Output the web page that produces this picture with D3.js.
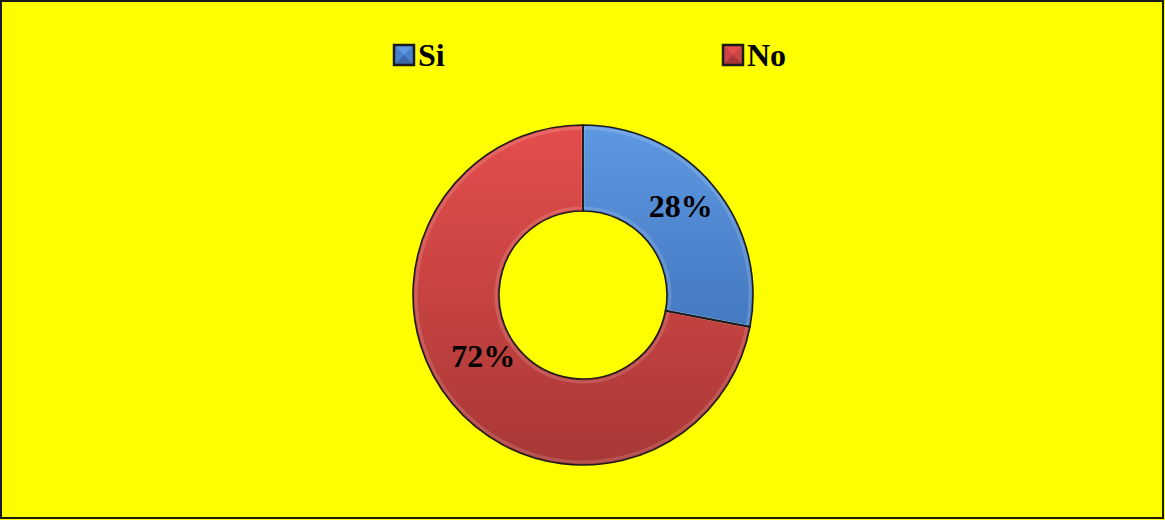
<!DOCTYPE html>
<html>
<head>
<meta charset="utf-8">
<script src="https://cdn.jsdelivr.net/npm/d3@7/dist/d3.min.js"></script>
<style>
  html, body { margin: 0; padding: 0; background: #ffff00; }
  svg { display: block; }
</style>
</head>
<body>
<svg id="chart" width="1165" height="520"></svg>
<script>
// Survey answers
const categories = ["Si", "No"];
const values = [28, 72];
const percentLabels = ["28%", "72%"];

const colors = {
  Si: { light: "#5e98e2", base: "#4a80c8", dark: "#3a68a8" },
  No: { light: "#e44e4c", base: "#c94442", dark: "#a83836" }
};

const W = 1165, H = 520;
const cx = 583, cy = 295, outerR = 170, innerR = 84;
// label placement: polar radius and angular nudge (radians) per slice
const labelLayout = { Si: { r: 132, shift: -0.045 }, No: { r: 117, shift: 0.14 } };

const svg = d3.select("#chart");
const defs = svg.append("defs");

// Background and frame
svg.append("rect")
  .attr("x", 1).attr("y", 1).attr("width", W - 3).attr("height", H - 3)
  .attr("fill", "#ffff00").attr("stroke", "#1a1a1a").attr("stroke-width", 2);

// Vertical gradients for the bevelled look of each slice (local to the donut group)
categories.forEach(c => {
  const g = defs.append("linearGradient")
    .attr("id", "grad-" + c)
    .attr("gradientUnits", "userSpaceOnUse")
    .attr("x1", 0).attr("y1", -outerR).attr("x2", 0).attr("y2", outerR);
  g.append("stop").attr("offset", "0%").attr("stop-color", colors[c].light);
  g.append("stop").attr("offset", "45%").attr("stop-color", colors[c].base);
  g.append("stop").attr("offset", "100%").attr("stop-color", colors[c].dark);
});

const pie = d3.pie().sort(null).value(d => d.value).startAngle(0).endAngle(2 * Math.PI);
const data = categories.map((c, i) => ({ cat: c, value: values[i], label: percentLabels[i] }));
const arcs = pie(data);

const arc = d3.arc().innerRadius(innerR).outerRadius(outerR);
const bevel = d3.arc().innerRadius(innerR + 3).outerRadius(outerR - 3);

const g = svg.append("g").attr("transform", `translate(${cx},${cy})`);

g.selectAll("path.slice")
  .data(arcs)
  .join("path")
  .attr("class", "slice")
  .attr("d", arc)
  .attr("fill", d => `url(#grad-${d.data.cat})`);

// soft inner highlight along the slice edges
g.selectAll("path.bevel")
  .data(arcs)
  .join("path")
  .attr("class", "bevel")
  .attr("d", bevel)
  .attr("fill", "none")
  .attr("stroke", "rgba(255,255,255,0.15)")
  .attr("stroke-width", 3);

g.selectAll("path.outline")
  .data(arcs)
  .join("path")
  .attr("class", "outline")
  .attr("d", arc)
  .attr("fill", "none")
  .attr("stroke", "#1c1c1c")
  .attr("stroke-width", 1.6);

// Percentage labels
const labelPoint = d => {
  const L = labelLayout[d.data.cat];
  const a = (d.startAngle + d.endAngle) / 2 + L.shift;
  return [Math.sin(a) * L.r, -Math.cos(a) * L.r];
};
g.selectAll("text.pct")
  .data(arcs)
  .join("text")
  .attr("class", "pct")
  .attr("x", d => labelPoint(d)[0])
  .attr("y", d => labelPoint(d)[1])
  .attr("text-anchor", "middle")
  .attr("dominant-baseline", "central")
  .attr("font-family", "'Liberation Serif', 'Times New Roman', serif")
  .attr("font-weight", "bold")
  .attr("font-size", 32)
  .attr("fill", "#000")
  .text(d => d.data.label);

// Legend
const legendX = { Si: 394, No: 723 };
const legend = svg.append("g");
categories.forEach(c => {
  const x = legendX[c], y = 45, s = 20;
  const lg = legend.append("g").attr("transform", `translate(${x},${y})`);
  const m = s / 2;
  // pyramid-style marker
  lg.append("rect").attr("width", s).attr("height", s).attr("fill", colors[c].base);
  lg.append("path").attr("d", `M0,0L${s},0L${m},${m}Z`).attr("fill", colors[c].light);
  lg.append("path").attr("d", `M0,0L0,${s}L${m},${m}Z`).attr("fill", colors[c].base);
  lg.append("path").attr("d", `M${s},0L${s},${s}L${m},${m}Z`).attr("fill", colors[c].base);
  lg.append("path").attr("d", `M0,${s}L${s},${s}L${m},${m}Z`).attr("fill", colors[c].dark);
  lg.append("rect").attr("width", s).attr("height", s)
    .attr("fill", "none").attr("stroke", "#1a1a1a").attr("stroke-width", 2.5);
  lg.append("text")
    .attr("x", s + 4).attr("y", 21)
    .attr("font-family", "'Liberation Serif', 'Times New Roman', serif")
    .attr("font-weight", "bold")
    .attr("font-size", 32)
    .attr("fill", "#000")
    .text(c);
});
</script>
</body>
</html>
